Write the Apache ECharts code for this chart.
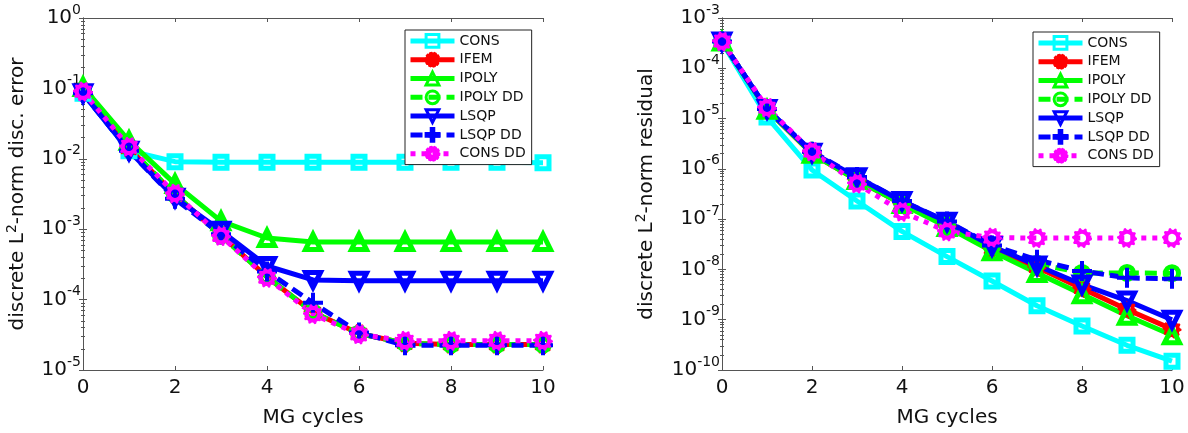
<!DOCTYPE html>
<html>
<head>
<meta charset="utf-8">
<script src="https://cdn.jsdelivr.net/npm/echarts@6/dist/echarts.min.js"></script>
<style>
html,body{margin:0;padding:0;background:#fff;}
#c{width:1188px;height:433px;}
</style>
</head>
<body>
<div id="c"></div>
<script>
// ---- data ----
const cycles = [0,1,2,3,4,5,6,7,8,9,10];
const seriesNames = ['CONS','IFEM','IPOLY','IPOLY DD','LSQP','LSQP DD','CONS DD'];

// left chart: discrete L2-norm discretization error
const errCONS    = [0.085, 0.013, 0.0091, 0.0089, 0.0089, 0.0089, 0.0089, 0.0089, 0.0089, 0.0089, 0.0088];
const errIFEM    = [0.09, 0.014, 0.0031, 0.00082, 0.00021, 0.000066, 0.000033, 0.000024, 0.000023, 0.000023, 0.000023];
const errIPOLY   = [0.105, 0.018, 0.0044, 0.0013, 0.00075, 0.00066, 0.00066, 0.00066, 0.00066, 0.00066, 0.00066];
const errIPOLYDD = [0.092, 0.0145, 0.0031, 0.00081, 0.00021, 0.000066, 0.000033, 0.000024, 0.000023, 0.000023, 0.000023];
const errLSQP    = [0.085, 0.013, 0.0028, 0.00095, 0.0003, 0.00019, 0.000186, 0.000186, 0.000186, 0.000186, 0.000186];
const errLSQPDD  = [0.085, 0.013, 0.0027, 0.00085, 0.00025, 0.00009, 0.000034, 0.0000225, 0.0000225, 0.0000225, 0.0000225];
const errCONSDD  = [0.09, 0.0148, 0.0032, 0.0008, 0.000204, 0.000062, 0.000032, 0.000026, 0.000026, 0.000026, 0.000026];

// right chart: discrete L2-norm residual
const resCONS    = [3.3e-4, 1.07e-5, 9.5e-7, 2.3e-7, 5.7e-8, 1.8e-8, 5.9e-9, 1.9e-9, 7.5e-10, 3.1e-10, 1.5e-10];
const resIFEM    = [3.4e-4, 1.5e-5, 2.0e-6, 6.0e-7, 2.0e-7, 7.5e-8, 2.6e-8, 1.1e-8, 4.2e-9, 1.6e-9, 6.5e-10];
const resIPOLY   = [3.4e-4, 1.5e-5, 2.0e-6, 6.0e-7, 2.0e-7, 7.0e-8, 2.3e-8, 8.5e-9, 3.2e-9, 1.2e-9, 4.9e-10];
const resIPOLYDD = [3.4e-4, 1.5e-5, 2.1e-6, 6.2e-7, 2.1e-7, 7.8e-8, 2.8e-8, 1.3e-8, 8.5e-9, 8.5e-9, 8.4e-9];
const resLSQP    = [3.4e-4, 1.55e-5, 2.1e-6, 6.8e-7, 2.3e-7, 8.9e-8, 2.9e-8, 1.2e-8, 5.0e-9, 2.4e-9, 1.0e-9];
const resLSQPDD  = [3.4e-4, 1.55e-5, 2.2e-6, 6.9e-7, 2.3e-7, 9.0e-8, 3.0e-8, 1.55e-8, 9.3e-9, 6.8e-9, 6.5e-9];
const resCONSDD  = [3.4e-4, 1.65e-5, 2.2e-6, 5.1e-7, 1.4e-7, 5.7e-8, 4.3e-8, 4.2e-8, 4.2e-8, 4.2e-8, 4.2e-8];

const leftYTitle = 'discrete L{sup|2}-norm disc. error';
const rightYTitle = 'discrete L{sup|2}-norm residual';
const xTitle = 'MG cycles';

// ---- styles ----
const FONT = 'DejaVu Sans';
const PLUS = 'path://M4,0L6,0L6,4L10,4L10,6L6,6L6,10L4,10L4,6L0,6L0,4L4,4Z';
// gear-shaped ring (marker shape only)
function gearPath(){
  const teeth = 10, ro = 10, rr = 8.2, ri = 4.2;
  let d = '';
  const n = teeth * 4;
  for (let k = 0; k < n; k++){
    const a = (k / n) * Math.PI * 2;
    const r = (k % 4 === 0 || k % 4 === 1) ? ro : rr;
    const x = (10 + r * Math.cos(a)).toFixed(3), y = (10 + r * Math.sin(a)).toFixed(3);
    d += (k === 0 ? 'M' : 'L') + x + ',' + y;
  }
  d += 'Z';
  const m = 24;
  for (let k = 0; k <= m; k++){
    const a = -(k / m) * Math.PI * 2;
    const x = (10 + ri * Math.cos(a)).toFixed(3), y = (10 + ri * Math.sin(a)).toFixed(3);
    d += (k === 0 ? 'M' : 'L') + x + ',' + y;
  }
  d += 'Z';
  return 'path://' + d;
}
const GEAR = gearPath();

const styles = {
  'CONS':     {color:'#00FFFF', symbol:'rect', size:12, dash:'solid', fill:false},
  'IFEM':     {color:'#FF0000', symbol:GEAR, size:19, dash:'solid', fill:true},
  'IPOLY':    {color:'#00FF00', symbol:'triangle', size:15, dash:'solid', fill:false},
  'IPOLY DD': {color:'#00FF00', symbol:'circle', size:13, dash:[12,6], fill:false},
  'LSQP':     {color:'#0000FF', symbol:'triangle', size:15, dash:'solid', fill:false, rotate:180},
  'LSQP DD':  {color:'#0000FF', symbol:PLUS, size:20, dash:[12,6], fill:true},
  'CONS DD':  {color:'#FF00FF', symbol:GEAR, size:20, dash:[5,6], fill:true}
};

function mkSeries(name, data, axisIdx){
  const s = styles[name];
  return {
    name: name, type:'line',
    xAxisIndex: axisIdx*2, yAxisIndex: axisIdx*2,
    data: cycles.map((c,i)=>[c, data[i]]),
    symbol: s.symbol, symbolSize: s.size, symbolRotate: s.rotate || 0,
    showAllSymbol: true,
    lineStyle: {color: s.color, width: 5, type: s.dash, cap:'butt'},
    itemStyle: s.fill ? {color: s.color, borderColor: s.color, borderWidth: 0}
                      : {color: 'rgba(255,255,255,0)', borderColor: s.color, borderWidth: 5},
    emphasis: {disabled:true},
    animation:false
  };
}

const axisLineStyle = {color:'#555', width:1};
function logLabel(v){
  const e = Math.round(Math.log10(v));
  return '{b|10}{s|' + e + '}';
}
const labelRich = {
  b: {fontFamily:FONT, fontSize:20, color:'#111'},
  s: {fontFamily:FONT, fontSize:14, color:'#111', padding:[0,0,16,0]}
};
const titleRich = {
  sup: {fontFamily:FONT, fontSize:14, color:'#111', padding:[0,0,12,0]}
};

function xAxes(gridIdx){
  return [
    {type:'value', gridIndex:gridIdx, min:0, max:10, interval:2, position:'bottom',
     axisLine:{show:true, lineStyle:axisLineStyle},
     axisTick:{show:true, inside:true, length:4, lineStyle:axisLineStyle},
     axisLabel:{fontFamily:FONT, fontSize:20, color:'#111', margin:8},
     splitLine:{show:false},
     name:xTitle, nameLocation:'middle', nameGap:38,
     nameTextStyle:{fontFamily:FONT, fontSize:20, color:'#111'}},
    {type:'value', gridIndex:gridIdx, min:0, max:10, interval:2, position:'top',
     axisLine:{show:true, lineStyle:axisLineStyle},
     axisTick:{show:true, inside:true, length:4, lineStyle:axisLineStyle},
     axisLabel:{show:false}, splitLine:{show:false}}
  ];
}
function yAxes(gridIdx, min, max, title, gap){
  return [
    {type:'log', logBase:10, gridIndex:gridIdx, min:min, max:max, position:'left',
     axisLine:{show:true, lineStyle:axisLineStyle},
     axisTick:{show:true, inside:true, length:4, lineStyle:axisLineStyle},
     minorTick:{show:true, splitNumber:9, length:2, lineStyle:axisLineStyle},
     axisLabel:{formatter:logLabel, rich:labelRich, margin:2},
     splitLine:{show:false},
     name:title, nameLocation:'middle', nameGap:gap, nameRotate:90,
     nameTextStyle:{fontFamily:FONT, fontSize:20, color:'#111', rich:titleRich}},
    {type:'log', logBase:10, gridIndex:gridIdx, min:min, max:max, position:'right',
     axisLine:{show:true, lineStyle:axisLineStyle},
     axisTick:{show:true, inside:true, length:4, lineStyle:axisLineStyle},
     minorTick:{show:true, splitNumber:9, length:2, lineStyle:axisLineStyle},
     axisLabel:{show:false}, splitLine:{show:false}}
  ];
}

function legend(left, top){
  return {
    orient:'vertical', left:left, top:top,
    data: seriesNames,
    backgroundColor:'#fff', borderColor:'#222', borderWidth:1,
    padding:[3,6,3,3], itemGap:3, itemWidth:44, itemHeight:16,
    selectedMode:false,
    lineStyle:{width:5},
    itemStyle:{borderWidth:3},
    textStyle:{fontFamily:FONT, fontSize:14, color:'#111'}
  };
}

const series = [];
[errCONS, errIFEM, errIPOLY, errIPOLYDD, errLSQP, errLSQPDD, errCONSDD].forEach((d,i)=>series.push(mkSeries(seriesNames[i], d, 0)));
[resCONS, resIFEM, resIPOLY, resIPOLYDD, resLSQP, resLSQPDD, resCONSDD].forEach((d,i)=>series.push(mkSeries(seriesNames[i], d, 1)));

const chart = echarts.init(document.getElementById('c'), null, {renderer:'canvas'});
chart.setOption({
  animation:false,
  backgroundColor:'#fff',
  grid:[
    {left:83, top:18, width:460, height:355, show:false},
    {left:722, top:18, width:450, height:355, show:false}
  ],
  xAxis: [].concat(xAxes(0), xAxes(1)),
  yAxis: [].concat(yAxes(0, 1e-5, 1, leftYTitle, 52), yAxes(1, 1e-10, 1e-3, rightYTitle, 62)),
  legend:[legend(405, 30), legend(1033, 32)],
  series: series
});
</script>
</body>
</html>
